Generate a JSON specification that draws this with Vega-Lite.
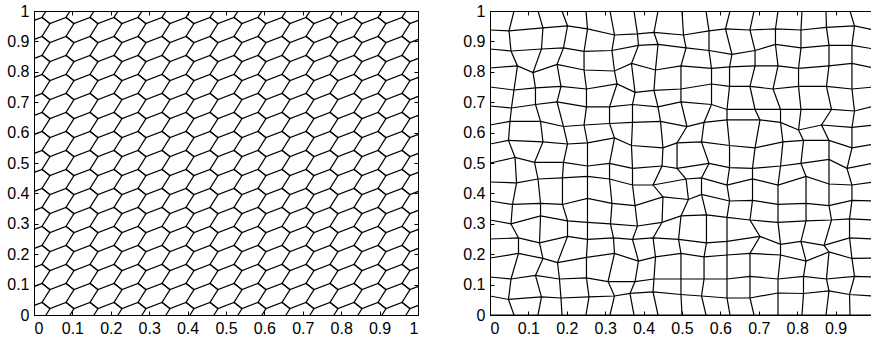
{
"$schema":"https://vega.github.io/schema/vega-lite/v6.json",
"padding":{"left":6,"top":2,"right":0,"bottom":2},
"background":"white",
"config":{"font":"Liberation Sans","axis":{"labelFont":"Liberation Sans","labelFontSize":16,"labelColor":"black","domainColor":"black","tickColor":"black","grid":false,"title":null,"tickSize":-4,"labelPadding":9,"domainWidth":1,"tickWidth":1},"view":{"stroke":"black","strokeWidth":1}},
"spacing":72,
"bounds":"flush",
"datasets":{
"hex":[
{"i":0,"j":-1,"x":0.0208,"y":-0.0208},{"i":1,"j":-1,"x":0.0833,"y":-0.0208},{"i":2,"j":-1,"x":0.1458,"y":-0.0208},{"i":3,"j":-1,"x":0.2083,"y":-0.0208},{"i":4,"j":-1,"x":0.2708,"y":-0.0208},{"i":5,"j":-1,"x":0.3333,"y":-0.0208},{"i":6,"j":-1,"x":0.3958,"y":-0.0208},{"i":7,"j":-1,"x":0.4583,"y":-0.0208},{"i":8,"j":-1,"x":0.5208,"y":-0.0208},{"i":9,"j":-1,"x":0.5833,"y":-0.0208},{"i":10,"j":-1,"x":0.6458,"y":-0.0208},{"i":11,"j":-1,"x":0.7083,"y":-0.0208},{"i":12,"j":-1,"x":0.7708,"y":-0.0208},{"i":13,"j":-1,"x":0.8333,"y":-0.0208},{"i":14,"j":-1,"x":0.8958,"y":-0.0208},{"i":15,"j":-1,"x":0.9583,"y":-0.0208},
{"i":-1,"j":0,"x":-0.0208,"y":0.0208},{"i":0,"j":0,"x":0.0208,"y":0.0417},{"i":0,"j":0,"x":0.0417,"y":0.0208},{"i":1,"j":0,"x":0.0833,"y":0.0417},{"i":1,"j":0,"x":0.1042,"y":0.0208},{"i":2,"j":0,"x":0.1458,"y":0.0417},{"i":2,"j":0,"x":0.1667,"y":0.0208},{"i":3,"j":0,"x":0.2083,"y":0.0417},{"i":3,"j":0,"x":0.2292,"y":0.0208},{"i":4,"j":0,"x":0.2708,"y":0.0417},{"i":4,"j":0,"x":0.2917,"y":0.0208},{"i":5,"j":0,"x":0.3333,"y":0.0417},{"i":5,"j":0,"x":0.3542,"y":0.0208},{"i":6,"j":0,"x":0.3958,"y":0.0417},{"i":6,"j":0,"x":0.4167,"y":0.0208},{"i":7,"j":0,"x":0.4583,"y":0.0417},{"i":7,"j":0,"x":0.4792,"y":0.0208},{"i":8,"j":0,"x":0.5208,"y":0.0417},{"i":8,"j":0,"x":0.5417,"y":0.0208},{"i":9,"j":0,"x":0.5833,"y":0.0417},{"i":9,"j":0,"x":0.6042,"y":0.0208},{"i":10,"j":0,"x":0.6458,"y":0.0417},{"i":10,"j":0,"x":0.6667,"y":0.0208},{"i":11,"j":0,"x":0.7083,"y":0.0417},{"i":11,"j":0,"x":0.7292,"y":0.0208},{"i":12,"j":0,"x":0.7708,"y":0.0417},{"i":12,"j":0,"x":0.7917,"y":0.0208},{"i":13,"j":0,"x":0.8333,"y":0.0417},{"i":13,"j":0,"x":0.8542,"y":0.0208},{"i":14,"j":0,"x":0.8958,"y":0.0417},{"i":14,"j":0,"x":0.9167,"y":0.0208},{"i":15,"j":0,"x":0.9583,"y":0.0417},{"i":15,"j":0,"x":0.9792,"y":0.0208},{"i":16,"j":0,"x":1.0208,"y":0.0417},
{"i":-1,"j":1,"x":-0.0208,"y":0.0833},{"i":0,"j":1,"x":0.0208,"y":0.1042},{"i":0,"j":1,"x":0.0417,"y":0.0833},{"i":1,"j":1,"x":0.0833,"y":0.1042},{"i":1,"j":1,"x":0.1042,"y":0.0833},{"i":2,"j":1,"x":0.1458,"y":0.1042},{"i":2,"j":1,"x":0.1667,"y":0.0833},{"i":3,"j":1,"x":0.2083,"y":0.1042},{"i":3,"j":1,"x":0.2292,"y":0.0833},{"i":4,"j":1,"x":0.2708,"y":0.1042},{"i":4,"j":1,"x":0.2917,"y":0.0833},{"i":5,"j":1,"x":0.3333,"y":0.1042},{"i":5,"j":1,"x":0.3542,"y":0.0833},{"i":6,"j":1,"x":0.3958,"y":0.1042},{"i":6,"j":1,"x":0.4167,"y":0.0833},{"i":7,"j":1,"x":0.4583,"y":0.1042},{"i":7,"j":1,"x":0.4792,"y":0.0833},{"i":8,"j":1,"x":0.5208,"y":0.1042},{"i":8,"j":1,"x":0.5417,"y":0.0833},{"i":9,"j":1,"x":0.5833,"y":0.1042},{"i":9,"j":1,"x":0.6042,"y":0.0833},{"i":10,"j":1,"x":0.6458,"y":0.1042},{"i":10,"j":1,"x":0.6667,"y":0.0833},{"i":11,"j":1,"x":0.7083,"y":0.1042},{"i":11,"j":1,"x":0.7292,"y":0.0833},{"i":12,"j":1,"x":0.7708,"y":0.1042},{"i":12,"j":1,"x":0.7917,"y":0.0833},{"i":13,"j":1,"x":0.8333,"y":0.1042},{"i":13,"j":1,"x":0.8542,"y":0.0833},{"i":14,"j":1,"x":0.8958,"y":0.1042},{"i":14,"j":1,"x":0.9167,"y":0.0833},{"i":15,"j":1,"x":0.9583,"y":0.1042},{"i":15,"j":1,"x":0.9792,"y":0.0833},{"i":16,"j":1,"x":1.0208,"y":0.1042},
{"i":-1,"j":2,"x":-0.0208,"y":0.1458},{"i":0,"j":2,"x":0.0208,"y":0.1667},{"i":0,"j":2,"x":0.0417,"y":0.1458},{"i":1,"j":2,"x":0.0833,"y":0.1667},{"i":1,"j":2,"x":0.1042,"y":0.1458},{"i":2,"j":2,"x":0.1458,"y":0.1667},{"i":2,"j":2,"x":0.1667,"y":0.1458},{"i":3,"j":2,"x":0.2083,"y":0.1667},{"i":3,"j":2,"x":0.2292,"y":0.1458},{"i":4,"j":2,"x":0.2708,"y":0.1667},{"i":4,"j":2,"x":0.2917,"y":0.1458},{"i":5,"j":2,"x":0.3333,"y":0.1667},{"i":5,"j":2,"x":0.3542,"y":0.1458},{"i":6,"j":2,"x":0.3958,"y":0.1667},{"i":6,"j":2,"x":0.4167,"y":0.1458},{"i":7,"j":2,"x":0.4583,"y":0.1667},{"i":7,"j":2,"x":0.4792,"y":0.1458},{"i":8,"j":2,"x":0.5208,"y":0.1667},{"i":8,"j":2,"x":0.5417,"y":0.1458},{"i":9,"j":2,"x":0.5833,"y":0.1667},{"i":9,"j":2,"x":0.6042,"y":0.1458},{"i":10,"j":2,"x":0.6458,"y":0.1667},{"i":10,"j":2,"x":0.6667,"y":0.1458},{"i":11,"j":2,"x":0.7083,"y":0.1667},{"i":11,"j":2,"x":0.7292,"y":0.1458},{"i":12,"j":2,"x":0.7708,"y":0.1667},{"i":12,"j":2,"x":0.7917,"y":0.1458},{"i":13,"j":2,"x":0.8333,"y":0.1667},{"i":13,"j":2,"x":0.8542,"y":0.1458},{"i":14,"j":2,"x":0.8958,"y":0.1667},{"i":14,"j":2,"x":0.9167,"y":0.1458},{"i":15,"j":2,"x":0.9583,"y":0.1667},{"i":15,"j":2,"x":0.9792,"y":0.1458},{"i":16,"j":2,"x":1.0208,"y":0.1667},
{"i":-1,"j":3,"x":-0.0208,"y":0.2083},{"i":0,"j":3,"x":0.0208,"y":0.2292},{"i":0,"j":3,"x":0.0417,"y":0.2083},{"i":1,"j":3,"x":0.0833,"y":0.2292},{"i":1,"j":3,"x":0.1042,"y":0.2083},{"i":2,"j":3,"x":0.1458,"y":0.2292},{"i":2,"j":3,"x":0.1667,"y":0.2083},{"i":3,"j":3,"x":0.2083,"y":0.2292},{"i":3,"j":3,"x":0.2292,"y":0.2083},{"i":4,"j":3,"x":0.2708,"y":0.2292},{"i":4,"j":3,"x":0.2917,"y":0.2083},{"i":5,"j":3,"x":0.3333,"y":0.2292},{"i":5,"j":3,"x":0.3542,"y":0.2083},{"i":6,"j":3,"x":0.3958,"y":0.2292},{"i":6,"j":3,"x":0.4167,"y":0.2083},{"i":7,"j":3,"x":0.4583,"y":0.2292},{"i":7,"j":3,"x":0.4792,"y":0.2083},{"i":8,"j":3,"x":0.5208,"y":0.2292},{"i":8,"j":3,"x":0.5417,"y":0.2083},{"i":9,"j":3,"x":0.5833,"y":0.2292},{"i":9,"j":3,"x":0.6042,"y":0.2083},{"i":10,"j":3,"x":0.6458,"y":0.2292},{"i":10,"j":3,"x":0.6667,"y":0.2083},{"i":11,"j":3,"x":0.7083,"y":0.2292},{"i":11,"j":3,"x":0.7292,"y":0.2083},{"i":12,"j":3,"x":0.7708,"y":0.2292},{"i":12,"j":3,"x":0.7917,"y":0.2083},{"i":13,"j":3,"x":0.8333,"y":0.2292},{"i":13,"j":3,"x":0.8542,"y":0.2083},{"i":14,"j":3,"x":0.8958,"y":0.2292},{"i":14,"j":3,"x":0.9167,"y":0.2083},{"i":15,"j":3,"x":0.9583,"y":0.2292},{"i":15,"j":3,"x":0.9792,"y":0.2083},{"i":16,"j":3,"x":1.0208,"y":0.2292},
{"i":-1,"j":4,"x":-0.0208,"y":0.2708},{"i":0,"j":4,"x":0.0208,"y":0.2917},{"i":0,"j":4,"x":0.0417,"y":0.2708},{"i":1,"j":4,"x":0.0833,"y":0.2917},{"i":1,"j":4,"x":0.1042,"y":0.2708},{"i":2,"j":4,"x":0.1458,"y":0.2917},{"i":2,"j":4,"x":0.1667,"y":0.2708},{"i":3,"j":4,"x":0.2083,"y":0.2917},{"i":3,"j":4,"x":0.2292,"y":0.2708},{"i":4,"j":4,"x":0.2708,"y":0.2917},{"i":4,"j":4,"x":0.2917,"y":0.2708},{"i":5,"j":4,"x":0.3333,"y":0.2917},{"i":5,"j":4,"x":0.3542,"y":0.2708},{"i":6,"j":4,"x":0.3958,"y":0.2917},{"i":6,"j":4,"x":0.4167,"y":0.2708},{"i":7,"j":4,"x":0.4583,"y":0.2917},{"i":7,"j":4,"x":0.4792,"y":0.2708},{"i":8,"j":4,"x":0.5208,"y":0.2917},{"i":8,"j":4,"x":0.5417,"y":0.2708},{"i":9,"j":4,"x":0.5833,"y":0.2917},{"i":9,"j":4,"x":0.6042,"y":0.2708},{"i":10,"j":4,"x":0.6458,"y":0.2917},{"i":10,"j":4,"x":0.6667,"y":0.2708},{"i":11,"j":4,"x":0.7083,"y":0.2917},{"i":11,"j":4,"x":0.7292,"y":0.2708},{"i":12,"j":4,"x":0.7708,"y":0.2917},{"i":12,"j":4,"x":0.7917,"y":0.2708},{"i":13,"j":4,"x":0.8333,"y":0.2917},{"i":13,"j":4,"x":0.8542,"y":0.2708},{"i":14,"j":4,"x":0.8958,"y":0.2917},{"i":14,"j":4,"x":0.9167,"y":0.2708},{"i":15,"j":4,"x":0.9583,"y":0.2917},{"i":15,"j":4,"x":0.9792,"y":0.2708},{"i":16,"j":4,"x":1.0208,"y":0.2917},
{"i":-1,"j":5,"x":-0.0208,"y":0.3333},{"i":0,"j":5,"x":0.0208,"y":0.3542},{"i":0,"j":5,"x":0.0417,"y":0.3333},{"i":1,"j":5,"x":0.0833,"y":0.3542},{"i":1,"j":5,"x":0.1042,"y":0.3333},{"i":2,"j":5,"x":0.1458,"y":0.3542},{"i":2,"j":5,"x":0.1667,"y":0.3333},{"i":3,"j":5,"x":0.2083,"y":0.3542},{"i":3,"j":5,"x":0.2292,"y":0.3333},{"i":4,"j":5,"x":0.2708,"y":0.3542},{"i":4,"j":5,"x":0.2917,"y":0.3333},{"i":5,"j":5,"x":0.3333,"y":0.3542},{"i":5,"j":5,"x":0.3542,"y":0.3333},{"i":6,"j":5,"x":0.3958,"y":0.3542},{"i":6,"j":5,"x":0.4167,"y":0.3333},{"i":7,"j":5,"x":0.4583,"y":0.3542},{"i":7,"j":5,"x":0.4792,"y":0.3333},{"i":8,"j":5,"x":0.5208,"y":0.3542},{"i":8,"j":5,"x":0.5417,"y":0.3333},{"i":9,"j":5,"x":0.5833,"y":0.3542},{"i":9,"j":5,"x":0.6042,"y":0.3333},{"i":10,"j":5,"x":0.6458,"y":0.3542},{"i":10,"j":5,"x":0.6667,"y":0.3333},{"i":11,"j":5,"x":0.7083,"y":0.3542},{"i":11,"j":5,"x":0.7292,"y":0.3333},{"i":12,"j":5,"x":0.7708,"y":0.3542},{"i":12,"j":5,"x":0.7917,"y":0.3333},{"i":13,"j":5,"x":0.8333,"y":0.3542},{"i":13,"j":5,"x":0.8542,"y":0.3333},{"i":14,"j":5,"x":0.8958,"y":0.3542},{"i":14,"j":5,"x":0.9167,"y":0.3333},{"i":15,"j":5,"x":0.9583,"y":0.3542},{"i":15,"j":5,"x":0.9792,"y":0.3333},{"i":16,"j":5,"x":1.0208,"y":0.3542},
{"i":-1,"j":6,"x":-0.0208,"y":0.3958},{"i":0,"j":6,"x":0.0208,"y":0.4167},{"i":0,"j":6,"x":0.0417,"y":0.3958},{"i":1,"j":6,"x":0.0833,"y":0.4167},{"i":1,"j":6,"x":0.1042,"y":0.3958},{"i":2,"j":6,"x":0.1458,"y":0.4167},{"i":2,"j":6,"x":0.1667,"y":0.3958},{"i":3,"j":6,"x":0.2083,"y":0.4167},{"i":3,"j":6,"x":0.2292,"y":0.3958},{"i":4,"j":6,"x":0.2708,"y":0.4167},{"i":4,"j":6,"x":0.2917,"y":0.3958},{"i":5,"j":6,"x":0.3333,"y":0.4167},{"i":5,"j":6,"x":0.3542,"y":0.3958},{"i":6,"j":6,"x":0.3958,"y":0.4167},{"i":6,"j":6,"x":0.4167,"y":0.3958},{"i":7,"j":6,"x":0.4583,"y":0.4167},{"i":7,"j":6,"x":0.4792,"y":0.3958},{"i":8,"j":6,"x":0.5208,"y":0.4167},{"i":8,"j":6,"x":0.5417,"y":0.3958},{"i":9,"j":6,"x":0.5833,"y":0.4167},{"i":9,"j":6,"x":0.6042,"y":0.3958},{"i":10,"j":6,"x":0.6458,"y":0.4167},{"i":10,"j":6,"x":0.6667,"y":0.3958},{"i":11,"j":6,"x":0.7083,"y":0.4167},{"i":11,"j":6,"x":0.7292,"y":0.3958},{"i":12,"j":6,"x":0.7708,"y":0.4167},{"i":12,"j":6,"x":0.7917,"y":0.3958},{"i":13,"j":6,"x":0.8333,"y":0.4167},{"i":13,"j":6,"x":0.8542,"y":0.3958},{"i":14,"j":6,"x":0.8958,"y":0.4167},{"i":14,"j":6,"x":0.9167,"y":0.3958},{"i":15,"j":6,"x":0.9583,"y":0.4167},{"i":15,"j":6,"x":0.9792,"y":0.3958},{"i":16,"j":6,"x":1.0208,"y":0.4167},
{"i":-1,"j":7,"x":-0.0208,"y":0.4583},{"i":0,"j":7,"x":0.0208,"y":0.4792},{"i":0,"j":7,"x":0.0417,"y":0.4583},{"i":1,"j":7,"x":0.0833,"y":0.4792},{"i":1,"j":7,"x":0.1042,"y":0.4583},{"i":2,"j":7,"x":0.1458,"y":0.4792},{"i":2,"j":7,"x":0.1667,"y":0.4583},{"i":3,"j":7,"x":0.2083,"y":0.4792},{"i":3,"j":7,"x":0.2292,"y":0.4583},{"i":4,"j":7,"x":0.2708,"y":0.4792},{"i":4,"j":7,"x":0.2917,"y":0.4583},{"i":5,"j":7,"x":0.3333,"y":0.4792},{"i":5,"j":7,"x":0.3542,"y":0.4583},{"i":6,"j":7,"x":0.3958,"y":0.4792},{"i":6,"j":7,"x":0.4167,"y":0.4583},{"i":7,"j":7,"x":0.4583,"y":0.4792},{"i":7,"j":7,"x":0.4792,"y":0.4583},{"i":8,"j":7,"x":0.5208,"y":0.4792},{"i":8,"j":7,"x":0.5417,"y":0.4583},{"i":9,"j":7,"x":0.5833,"y":0.4792},{"i":9,"j":7,"x":0.6042,"y":0.4583},{"i":10,"j":7,"x":0.6458,"y":0.4792},{"i":10,"j":7,"x":0.6667,"y":0.4583},{"i":11,"j":7,"x":0.7083,"y":0.4792},{"i":11,"j":7,"x":0.7292,"y":0.4583},{"i":12,"j":7,"x":0.7708,"y":0.4792},{"i":12,"j":7,"x":0.7917,"y":0.4583},{"i":13,"j":7,"x":0.8333,"y":0.4792},{"i":13,"j":7,"x":0.8542,"y":0.4583},{"i":14,"j":7,"x":0.8958,"y":0.4792},{"i":14,"j":7,"x":0.9167,"y":0.4583},{"i":15,"j":7,"x":0.9583,"y":0.4792},{"i":15,"j":7,"x":0.9792,"y":0.4583},{"i":16,"j":7,"x":1.0208,"y":0.4792},
{"i":-1,"j":8,"x":-0.0208,"y":0.5208},{"i":0,"j":8,"x":0.0208,"y":0.5417},{"i":0,"j":8,"x":0.0417,"y":0.5208},{"i":1,"j":8,"x":0.0833,"y":0.5417},{"i":1,"j":8,"x":0.1042,"y":0.5208},{"i":2,"j":8,"x":0.1458,"y":0.5417},{"i":2,"j":8,"x":0.1667,"y":0.5208},{"i":3,"j":8,"x":0.2083,"y":0.5417},{"i":3,"j":8,"x":0.2292,"y":0.5208},{"i":4,"j":8,"x":0.2708,"y":0.5417},{"i":4,"j":8,"x":0.2917,"y":0.5208},{"i":5,"j":8,"x":0.3333,"y":0.5417},{"i":5,"j":8,"x":0.3542,"y":0.5208},{"i":6,"j":8,"x":0.3958,"y":0.5417},{"i":6,"j":8,"x":0.4167,"y":0.5208},{"i":7,"j":8,"x":0.4583,"y":0.5417},{"i":7,"j":8,"x":0.4792,"y":0.5208},{"i":8,"j":8,"x":0.5208,"y":0.5417},{"i":8,"j":8,"x":0.5417,"y":0.5208},{"i":9,"j":8,"x":0.5833,"y":0.5417},{"i":9,"j":8,"x":0.6042,"y":0.5208},{"i":10,"j":8,"x":0.6458,"y":0.5417},{"i":10,"j":8,"x":0.6667,"y":0.5208},{"i":11,"j":8,"x":0.7083,"y":0.5417},{"i":11,"j":8,"x":0.7292,"y":0.5208},{"i":12,"j":8,"x":0.7708,"y":0.5417},{"i":12,"j":8,"x":0.7917,"y":0.5208},{"i":13,"j":8,"x":0.8333,"y":0.5417},{"i":13,"j":8,"x":0.8542,"y":0.5208},{"i":14,"j":8,"x":0.8958,"y":0.5417},{"i":14,"j":8,"x":0.9167,"y":0.5208},{"i":15,"j":8,"x":0.9583,"y":0.5417},{"i":15,"j":8,"x":0.9792,"y":0.5208},{"i":16,"j":8,"x":1.0208,"y":0.5417},
{"i":-1,"j":9,"x":-0.0208,"y":0.5833},{"i":0,"j":9,"x":0.0208,"y":0.6042},{"i":0,"j":9,"x":0.0417,"y":0.5833},{"i":1,"j":9,"x":0.0833,"y":0.6042},{"i":1,"j":9,"x":0.1042,"y":0.5833},{"i":2,"j":9,"x":0.1458,"y":0.6042},{"i":2,"j":9,"x":0.1667,"y":0.5833},{"i":3,"j":9,"x":0.2083,"y":0.6042},{"i":3,"j":9,"x":0.2292,"y":0.5833},{"i":4,"j":9,"x":0.2708,"y":0.6042},{"i":4,"j":9,"x":0.2917,"y":0.5833},{"i":5,"j":9,"x":0.3333,"y":0.6042},{"i":5,"j":9,"x":0.3542,"y":0.5833},{"i":6,"j":9,"x":0.3958,"y":0.6042},{"i":6,"j":9,"x":0.4167,"y":0.5833},{"i":7,"j":9,"x":0.4583,"y":0.6042},{"i":7,"j":9,"x":0.4792,"y":0.5833},{"i":8,"j":9,"x":0.5208,"y":0.6042},{"i":8,"j":9,"x":0.5417,"y":0.5833},{"i":9,"j":9,"x":0.5833,"y":0.6042},{"i":9,"j":9,"x":0.6042,"y":0.5833},{"i":10,"j":9,"x":0.6458,"y":0.6042},{"i":10,"j":9,"x":0.6667,"y":0.5833},{"i":11,"j":9,"x":0.7083,"y":0.6042},{"i":11,"j":9,"x":0.7292,"y":0.5833},{"i":12,"j":9,"x":0.7708,"y":0.6042},{"i":12,"j":9,"x":0.7917,"y":0.5833},{"i":13,"j":9,"x":0.8333,"y":0.6042},{"i":13,"j":9,"x":0.8542,"y":0.5833},{"i":14,"j":9,"x":0.8958,"y":0.6042},{"i":14,"j":9,"x":0.9167,"y":0.5833},{"i":15,"j":9,"x":0.9583,"y":0.6042},{"i":15,"j":9,"x":0.9792,"y":0.5833},{"i":16,"j":9,"x":1.0208,"y":0.6042},
{"i":-1,"j":10,"x":-0.0208,"y":0.6458},{"i":0,"j":10,"x":0.0208,"y":0.6667},{"i":0,"j":10,"x":0.0417,"y":0.6458},{"i":1,"j":10,"x":0.0833,"y":0.6667},{"i":1,"j":10,"x":0.1042,"y":0.6458},{"i":2,"j":10,"x":0.1458,"y":0.6667},{"i":2,"j":10,"x":0.1667,"y":0.6458},{"i":3,"j":10,"x":0.2083,"y":0.6667},{"i":3,"j":10,"x":0.2292,"y":0.6458},{"i":4,"j":10,"x":0.2708,"y":0.6667},{"i":4,"j":10,"x":0.2917,"y":0.6458},{"i":5,"j":10,"x":0.3333,"y":0.6667},{"i":5,"j":10,"x":0.3542,"y":0.6458},{"i":6,"j":10,"x":0.3958,"y":0.6667},{"i":6,"j":10,"x":0.4167,"y":0.6458},{"i":7,"j":10,"x":0.4583,"y":0.6667},{"i":7,"j":10,"x":0.4792,"y":0.6458},{"i":8,"j":10,"x":0.5208,"y":0.6667},{"i":8,"j":10,"x":0.5417,"y":0.6458},{"i":9,"j":10,"x":0.5833,"y":0.6667},{"i":9,"j":10,"x":0.6042,"y":0.6458},{"i":10,"j":10,"x":0.6458,"y":0.6667},{"i":10,"j":10,"x":0.6667,"y":0.6458},{"i":11,"j":10,"x":0.7083,"y":0.6667},{"i":11,"j":10,"x":0.7292,"y":0.6458},{"i":12,"j":10,"x":0.7708,"y":0.6667},{"i":12,"j":10,"x":0.7917,"y":0.6458},{"i":13,"j":10,"x":0.8333,"y":0.6667},{"i":13,"j":10,"x":0.8542,"y":0.6458},{"i":14,"j":10,"x":0.8958,"y":0.6667},{"i":14,"j":10,"x":0.9167,"y":0.6458},{"i":15,"j":10,"x":0.9583,"y":0.6667},{"i":15,"j":10,"x":0.9792,"y":0.6458},{"i":16,"j":10,"x":1.0208,"y":0.6667},
{"i":-1,"j":11,"x":-0.0208,"y":0.7083},{"i":0,"j":11,"x":0.0208,"y":0.7292},{"i":0,"j":11,"x":0.0417,"y":0.7083},{"i":1,"j":11,"x":0.0833,"y":0.7292},{"i":1,"j":11,"x":0.1042,"y":0.7083},{"i":2,"j":11,"x":0.1458,"y":0.7292},{"i":2,"j":11,"x":0.1667,"y":0.7083},{"i":3,"j":11,"x":0.2083,"y":0.7292},{"i":3,"j":11,"x":0.2292,"y":0.7083},{"i":4,"j":11,"x":0.2708,"y":0.7292},{"i":4,"j":11,"x":0.2917,"y":0.7083},{"i":5,"j":11,"x":0.3333,"y":0.7292},{"i":5,"j":11,"x":0.3542,"y":0.7083},{"i":6,"j":11,"x":0.3958,"y":0.7292},{"i":6,"j":11,"x":0.4167,"y":0.7083},{"i":7,"j":11,"x":0.4583,"y":0.7292},{"i":7,"j":11,"x":0.4792,"y":0.7083},{"i":8,"j":11,"x":0.5208,"y":0.7292},{"i":8,"j":11,"x":0.5417,"y":0.7083},{"i":9,"j":11,"x":0.5833,"y":0.7292},{"i":9,"j":11,"x":0.6042,"y":0.7083},{"i":10,"j":11,"x":0.6458,"y":0.7292},{"i":10,"j":11,"x":0.6667,"y":0.7083},{"i":11,"j":11,"x":0.7083,"y":0.7292},{"i":11,"j":11,"x":0.7292,"y":0.7083},{"i":12,"j":11,"x":0.7708,"y":0.7292},{"i":12,"j":11,"x":0.7917,"y":0.7083},{"i":13,"j":11,"x":0.8333,"y":0.7292},{"i":13,"j":11,"x":0.8542,"y":0.7083},{"i":14,"j":11,"x":0.8958,"y":0.7292},{"i":14,"j":11,"x":0.9167,"y":0.7083},{"i":15,"j":11,"x":0.9583,"y":0.7292},{"i":15,"j":11,"x":0.9792,"y":0.7083},{"i":16,"j":11,"x":1.0208,"y":0.7292},
{"i":-1,"j":12,"x":-0.0208,"y":0.7708},{"i":0,"j":12,"x":0.0208,"y":0.7917},{"i":0,"j":12,"x":0.0417,"y":0.7708},{"i":1,"j":12,"x":0.0833,"y":0.7917},{"i":1,"j":12,"x":0.1042,"y":0.7708},{"i":2,"j":12,"x":0.1458,"y":0.7917},{"i":2,"j":12,"x":0.1667,"y":0.7708},{"i":3,"j":12,"x":0.2083,"y":0.7917},{"i":3,"j":12,"x":0.2292,"y":0.7708},{"i":4,"j":12,"x":0.2708,"y":0.7917},{"i":4,"j":12,"x":0.2917,"y":0.7708},{"i":5,"j":12,"x":0.3333,"y":0.7917},{"i":5,"j":12,"x":0.3542,"y":0.7708},{"i":6,"j":12,"x":0.3958,"y":0.7917},{"i":6,"j":12,"x":0.4167,"y":0.7708},{"i":7,"j":12,"x":0.4583,"y":0.7917},{"i":7,"j":12,"x":0.4792,"y":0.7708},{"i":8,"j":12,"x":0.5208,"y":0.7917},{"i":8,"j":12,"x":0.5417,"y":0.7708},{"i":9,"j":12,"x":0.5833,"y":0.7917},{"i":9,"j":12,"x":0.6042,"y":0.7708},{"i":10,"j":12,"x":0.6458,"y":0.7917},{"i":10,"j":12,"x":0.6667,"y":0.7708},{"i":11,"j":12,"x":0.7083,"y":0.7917},{"i":11,"j":12,"x":0.7292,"y":0.7708},{"i":12,"j":12,"x":0.7708,"y":0.7917},{"i":12,"j":12,"x":0.7917,"y":0.7708},{"i":13,"j":12,"x":0.8333,"y":0.7917},{"i":13,"j":12,"x":0.8542,"y":0.7708},{"i":14,"j":12,"x":0.8958,"y":0.7917},{"i":14,"j":12,"x":0.9167,"y":0.7708},{"i":15,"j":12,"x":0.9583,"y":0.7917},{"i":15,"j":12,"x":0.9792,"y":0.7708},{"i":16,"j":12,"x":1.0208,"y":0.7917},
{"i":-1,"j":13,"x":-0.0208,"y":0.8333},{"i":0,"j":13,"x":0.0208,"y":0.8542},{"i":0,"j":13,"x":0.0417,"y":0.8333},{"i":1,"j":13,"x":0.0833,"y":0.8542},{"i":1,"j":13,"x":0.1042,"y":0.8333},{"i":2,"j":13,"x":0.1458,"y":0.8542},{"i":2,"j":13,"x":0.1667,"y":0.8333},{"i":3,"j":13,"x":0.2083,"y":0.8542},{"i":3,"j":13,"x":0.2292,"y":0.8333},{"i":4,"j":13,"x":0.2708,"y":0.8542},{"i":4,"j":13,"x":0.2917,"y":0.8333},{"i":5,"j":13,"x":0.3333,"y":0.8542},{"i":5,"j":13,"x":0.3542,"y":0.8333},{"i":6,"j":13,"x":0.3958,"y":0.8542},{"i":6,"j":13,"x":0.4167,"y":0.8333},{"i":7,"j":13,"x":0.4583,"y":0.8542},{"i":7,"j":13,"x":0.4792,"y":0.8333},{"i":8,"j":13,"x":0.5208,"y":0.8542},{"i":8,"j":13,"x":0.5417,"y":0.8333},{"i":9,"j":13,"x":0.5833,"y":0.8542},{"i":9,"j":13,"x":0.6042,"y":0.8333},{"i":10,"j":13,"x":0.6458,"y":0.8542},{"i":10,"j":13,"x":0.6667,"y":0.8333},{"i":11,"j":13,"x":0.7083,"y":0.8542},{"i":11,"j":13,"x":0.7292,"y":0.8333},{"i":12,"j":13,"x":0.7708,"y":0.8542},{"i":12,"j":13,"x":0.7917,"y":0.8333},{"i":13,"j":13,"x":0.8333,"y":0.8542},{"i":13,"j":13,"x":0.8542,"y":0.8333},{"i":14,"j":13,"x":0.8958,"y":0.8542},{"i":14,"j":13,"x":0.9167,"y":0.8333},{"i":15,"j":13,"x":0.9583,"y":0.8542},{"i":15,"j":13,"x":0.9792,"y":0.8333},{"i":16,"j":13,"x":1.0208,"y":0.8542},
{"i":-1,"j":14,"x":-0.0208,"y":0.8958},{"i":0,"j":14,"x":0.0208,"y":0.9167},{"i":0,"j":14,"x":0.0417,"y":0.8958},{"i":1,"j":14,"x":0.0833,"y":0.9167},{"i":1,"j":14,"x":0.1042,"y":0.8958},{"i":2,"j":14,"x":0.1458,"y":0.9167},{"i":2,"j":14,"x":0.1667,"y":0.8958},{"i":3,"j":14,"x":0.2083,"y":0.9167},{"i":3,"j":14,"x":0.2292,"y":0.8958},{"i":4,"j":14,"x":0.2708,"y":0.9167},{"i":4,"j":14,"x":0.2917,"y":0.8958},{"i":5,"j":14,"x":0.3333,"y":0.9167},{"i":5,"j":14,"x":0.3542,"y":0.8958},{"i":6,"j":14,"x":0.3958,"y":0.9167},{"i":6,"j":14,"x":0.4167,"y":0.8958},{"i":7,"j":14,"x":0.4583,"y":0.9167},{"i":7,"j":14,"x":0.4792,"y":0.8958},{"i":8,"j":14,"x":0.5208,"y":0.9167},{"i":8,"j":14,"x":0.5417,"y":0.8958},{"i":9,"j":14,"x":0.5833,"y":0.9167},{"i":9,"j":14,"x":0.6042,"y":0.8958},{"i":10,"j":14,"x":0.6458,"y":0.9167},{"i":10,"j":14,"x":0.6667,"y":0.8958},{"i":11,"j":14,"x":0.7083,"y":0.9167},{"i":11,"j":14,"x":0.7292,"y":0.8958},{"i":12,"j":14,"x":0.7708,"y":0.9167},{"i":12,"j":14,"x":0.7917,"y":0.8958},{"i":13,"j":14,"x":0.8333,"y":0.9167},{"i":13,"j":14,"x":0.8542,"y":0.8958},{"i":14,"j":14,"x":0.8958,"y":0.9167},{"i":14,"j":14,"x":0.9167,"y":0.8958},{"i":15,"j":14,"x":0.9583,"y":0.9167},{"i":15,"j":14,"x":0.9792,"y":0.8958},{"i":16,"j":14,"x":1.0208,"y":0.9167},
{"i":-1,"j":15,"x":-0.0208,"y":0.9583},{"i":0,"j":15,"x":0.0208,"y":0.9792},{"i":0,"j":15,"x":0.0417,"y":0.9583},{"i":1,"j":15,"x":0.0833,"y":0.9792},{"i":1,"j":15,"x":0.1042,"y":0.9583},{"i":2,"j":15,"x":0.1458,"y":0.9792},{"i":2,"j":15,"x":0.1667,"y":0.9583},{"i":3,"j":15,"x":0.2083,"y":0.9792},{"i":3,"j":15,"x":0.2292,"y":0.9583},{"i":4,"j":15,"x":0.2708,"y":0.9792},{"i":4,"j":15,"x":0.2917,"y":0.9583},{"i":5,"j":15,"x":0.3333,"y":0.9792},{"i":5,"j":15,"x":0.3542,"y":0.9583},{"i":6,"j":15,"x":0.3958,"y":0.9792},{"i":6,"j":15,"x":0.4167,"y":0.9583},{"i":7,"j":15,"x":0.4583,"y":0.9792},{"i":7,"j":15,"x":0.4792,"y":0.9583},{"i":8,"j":15,"x":0.5208,"y":0.9792},{"i":8,"j":15,"x":0.5417,"y":0.9583},{"i":9,"j":15,"x":0.5833,"y":0.9792},{"i":9,"j":15,"x":0.6042,"y":0.9583},{"i":10,"j":15,"x":0.6458,"y":0.9792},{"i":10,"j":15,"x":0.6667,"y":0.9583},{"i":11,"j":15,"x":0.7083,"y":0.9792},{"i":11,"j":15,"x":0.7292,"y":0.9583},{"i":12,"j":15,"x":0.7708,"y":0.9792},{"i":12,"j":15,"x":0.7917,"y":0.9583},{"i":13,"j":15,"x":0.8333,"y":0.9792},{"i":13,"j":15,"x":0.8542,"y":0.9583},{"i":14,"j":15,"x":0.8958,"y":0.9792},{"i":14,"j":15,"x":0.9167,"y":0.9583},{"i":15,"j":15,"x":0.9583,"y":0.9792},{"i":15,"j":15,"x":0.9792,"y":0.9583},{"i":16,"j":15,"x":1.0208,"y":0.9792},
{"i":0,"j":16,"x":0.0417,"y":1.0208},{"i":1,"j":16,"x":0.1042,"y":1.0208},{"i":2,"j":16,"x":0.1667,"y":1.0208},{"i":3,"j":16,"x":0.2292,"y":1.0208},{"i":4,"j":16,"x":0.2917,"y":1.0208},{"i":5,"j":16,"x":0.3542,"y":1.0208},{"i":6,"j":16,"x":0.4167,"y":1.0208},{"i":7,"j":16,"x":0.4792,"y":1.0208},{"i":8,"j":16,"x":0.5417,"y":1.0208},{"i":9,"j":16,"x":0.6042,"y":1.0208},{"i":10,"j":16,"x":0.6667,"y":1.0208},{"i":11,"j":16,"x":0.7292,"y":1.0208},{"i":12,"j":16,"x":0.7917,"y":1.0208},{"i":13,"j":16,"x":0.8542,"y":1.0208},{"i":14,"j":16,"x":0.9167,"y":1.0208},{"i":15,"j":16,"x":0.9792,"y":1.0208}
],
"quad":[
{"i":0,"j":0,"x":0,"y":0},{"i":1,"j":0,"x":0.0625,"y":0},{"i":2,"j":0,"x":0.125,"y":0},{"i":3,"j":0,"x":0.1875,"y":0},{"i":4,"j":0,"x":0.25,"y":0},{"i":5,"j":0,"x":0.3125,"y":0},{"i":6,"j":0,"x":0.375,"y":0},{"i":7,"j":0,"x":0.4375,"y":0},{"i":8,"j":0,"x":0.5,"y":0},{"i":9,"j":0,"x":0.5625,"y":0},{"i":10,"j":0,"x":0.625,"y":0},{"i":11,"j":0,"x":0.6875,"y":0},{"i":12,"j":0,"x":0.75,"y":0},{"i":13,"j":0,"x":0.8125,"y":0},{"i":14,"j":0,"x":0.875,"y":0},{"i":15,"j":0,"x":0.9375,"y":0},{"i":16,"j":0,"x":1,"y":0},
{"i":0,"j":1,"x":0,"y":0.0625},{"i":1,"j":1,"x":0.0481,"y":0.0511},{"i":2,"j":1,"x":0.134,"y":0.0595},{"i":3,"j":1,"x":0.1848,"y":0.056},{"i":4,"j":1,"x":0.2578,"y":0.0595},{"i":5,"j":1,"x":0.3242,"y":0.0625},{"i":6,"j":1,"x":0.3645,"y":0.0709},{"i":7,"j":1,"x":0.4246,"y":0.0759},{"i":8,"j":1,"x":0.4973,"y":0.0675},{"i":9,"j":1,"x":0.5508,"y":0.0625},{"i":10,"j":1,"x":0.6172,"y":0.056},{"i":11,"j":1,"x":0.677,"y":0.056},{"i":12,"j":1,"x":0.75,"y":0.0724},{"i":13,"j":1,"x":0.8164,"y":0.0708},{"i":14,"j":1,"x":0.8828,"y":0.0793},{"i":15,"j":1,"x":0.9363,"y":0.0675},{"i":16,"j":1,"x":1,"y":0.0625},
{"i":0,"j":2,"x":0,"y":0.125},{"i":1,"j":2,"x":0.0547,"y":0.1185},{"i":2,"j":2,"x":0.1184,"y":0.13},{"i":3,"j":2,"x":0.1809,"y":0.1185},{"i":4,"j":2,"x":0.2512,"y":0.122},{"i":5,"j":2,"x":0.3074,"y":0.1101},{"i":6,"j":2,"x":0.3777,"y":0.1101},{"i":7,"j":2,"x":0.427,"y":0.1185},{"i":8,"j":2,"x":0.4973,"y":0.1185},{"i":9,"j":2,"x":0.5574,"y":0.1185},{"i":10,"j":2,"x":0.6172,"y":0.1185},{"i":11,"j":2,"x":0.677,"y":0.127},{"i":12,"j":2,"x":0.75,"y":0.1185},{"i":13,"j":2,"x":0.8164,"y":0.127},{"i":14,"j":2,"x":0.8762,"y":0.1185},{"i":15,"j":2,"x":0.9492,"y":0.127},{"i":16,"j":2,"x":1,"y":0.125},
{"i":0,"j":3,"x":0,"y":0.1875},{"i":1,"j":3,"x":0.0742,"y":0.2024},{"i":2,"j":3,"x":0.1379,"y":0.186},{"i":3,"j":3,"x":0.1758,"y":0.1726},{"i":4,"j":3,"x":0.2512,"y":0.1895},{"i":5,"j":3,"x":0.3242,"y":0.2024},{"i":6,"j":3,"x":0.3867,"y":0.1776},{"i":7,"j":3,"x":0.4309,"y":0.191},{"i":8,"j":3,"x":0.4973,"y":0.2024},{"i":9,"j":3,"x":0.5574,"y":0.191},{"i":10,"j":3,"x":0.6172,"y":0.1974},{"i":11,"j":3,"x":0.677,"y":0.2024},{"i":12,"j":3,"x":0.7566,"y":0.1974},{"i":13,"j":3,"x":0.823,"y":0.1776},{"i":14,"j":3,"x":0.8828,"y":0.2073},{"i":15,"j":3,"x":0.9426,"y":0.186},{"i":16,"j":3,"x":1,"y":0.1875},
{"i":0,"j":4,"x":0,"y":0.25},{"i":1,"j":4,"x":0.0742,"y":0.2535},{"i":2,"j":4,"x":0.1289,"y":0.2371},{"i":3,"j":4,"x":0.2019,"y":0.2584},{"i":4,"j":4,"x":0.2539,"y":0.2485},{"i":5,"j":4,"x":0.3215,"y":0.2535},{"i":6,"j":4,"x":0.3711,"y":0.2485},{"i":7,"j":4,"x":0.4246,"y":0.2535},{"i":8,"j":4,"x":0.491,"y":0.2485},{"i":9,"j":4,"x":0.5637,"y":0.2371},{"i":10,"j":4,"x":0.6172,"y":0.242},{"i":11,"j":4,"x":0.7031,"y":0.2584},{"i":12,"j":4,"x":0.7566,"y":0.2323},{"i":13,"j":4,"x":0.8098,"y":0.242},{"i":14,"j":4,"x":0.8699,"y":0.2288},{"i":15,"j":4,"x":0.9363,"y":0.2535},{"i":16,"j":4,"x":1,"y":0.25},
{"i":0,"j":5,"x":0,"y":0.3125},{"i":1,"j":5,"x":0.0547,"y":0.2996},{"i":2,"j":5,"x":0.1316,"y":0.3259},{"i":3,"j":5,"x":0.2019,"y":0.3095},{"i":4,"j":5,"x":0.2539,"y":0.3045},{"i":5,"j":5,"x":0.3137,"y":0.2996},{"i":6,"j":5,"x":0.384,"y":0.2927},{"i":7,"j":5,"x":0.448,"y":0.3045},{"i":8,"j":5,"x":0.4973,"y":0.3259},{"i":9,"j":5,"x":0.5637,"y":0.3293},{"i":10,"j":5,"x":0.6172,"y":0.3209},{"i":11,"j":5,"x":0.677,"y":0.3125},{"i":12,"j":5,"x":0.75,"y":0.3045},{"i":13,"j":5,"x":0.823,"y":0.3095},{"i":14,"j":5,"x":0.8894,"y":0.3125},{"i":15,"j":5,"x":0.9363,"y":0.316},{"i":16,"j":5,"x":1,"y":0.3125},
{"i":0,"j":6,"x":0,"y":0.375},{"i":1,"j":6,"x":0.0586,"y":0.3636},{"i":2,"j":6,"x":0.1316,"y":0.367},{"i":3,"j":6,"x":0.1887,"y":0.3636},{"i":4,"j":6,"x":0.2539,"y":0.3834},{"i":5,"j":6,"x":0.3176,"y":0.367},{"i":6,"j":6,"x":0.3777,"y":0.3601},{"i":7,"j":6,"x":0.4504,"y":0.3884},{"i":8,"j":6,"x":0.5168,"y":0.38},{"i":9,"j":6,"x":0.5508,"y":0.3968},{"i":10,"j":6,"x":0.6238,"y":0.375},{"i":11,"j":6,"x":0.6836,"y":0.377},{"i":12,"j":6,"x":0.75,"y":0.3636},{"i":13,"j":6,"x":0.823,"y":0.367},{"i":14,"j":6,"x":0.8828,"y":0.3601},{"i":15,"j":6,"x":0.9426,"y":0.377},{"i":16,"j":6,"x":1,"y":0.375},
{"i":0,"j":7,"x":0,"y":0.4375},{"i":1,"j":7,"x":0.0691,"y":0.4345},{"i":2,"j":7,"x":0.125,"y":0.4474},{"i":3,"j":7,"x":0.1887,"y":0.4509},{"i":4,"j":7,"x":0.2539,"y":0.4558},{"i":5,"j":7,"x":0.3113,"y":0.4474},{"i":6,"j":7,"x":0.3711,"y":0.4276},{"i":7,"j":7,"x":0.4246,"y":0.4276},{"i":8,"j":7,"x":0.5105,"y":0.4474},{"i":9,"j":7,"x":0.5508,"y":0.4509},{"i":10,"j":7,"x":0.6172,"y":0.4276},{"i":11,"j":7,"x":0.6836,"y":0.4474},{"i":12,"j":7,"x":0.75,"y":0.4276},{"i":13,"j":7,"x":0.823,"y":0.4558},{"i":14,"j":7,"x":0.8828,"y":0.431},{"i":15,"j":7,"x":0.9426,"y":0.4276},{"i":16,"j":7,"x":1,"y":0.4375},
{"i":0,"j":8,"x":0,"y":0.5},{"i":1,"j":8,"x":0.0652,"y":0.5183},{"i":2,"j":8,"x":0.116,"y":0.502},{"i":3,"j":8,"x":0.1914,"y":0.502},{"i":4,"j":8,"x":0.2539,"y":0.4901},{"i":5,"j":8,"x":0.3113,"y":0.4985},{"i":6,"j":8,"x":0.3711,"y":0.4823},{"i":7,"j":8,"x":0.448,"y":0.4901},{"i":8,"j":8,"x":0.4871,"y":0.4823},{"i":9,"j":8,"x":0.5703,"y":0.4985},{"i":10,"j":8,"x":0.6238,"y":0.4851},{"i":11,"j":8,"x":0.6836,"y":0.4823},{"i":12,"j":8,"x":0.7566,"y":0.4901},{"i":13,"j":8,"x":0.8098,"y":0.4985},{"i":14,"j":8,"x":0.8828,"y":0.5119},{"i":15,"j":8,"x":0.9297,"y":0.4823},{"i":16,"j":8,"x":1,"y":0.5},
{"i":0,"j":9,"x":0,"y":0.5625},{"i":1,"j":9,"x":0.0481,"y":0.5744},{"i":2,"j":9,"x":0.1379,"y":0.5694},{"i":3,"j":9,"x":0.2019,"y":0.5625},{"i":4,"j":9,"x":0.2539,"y":0.566},{"i":5,"j":9,"x":0.3242,"y":0.5823},{"i":6,"j":9,"x":0.3684,"y":0.5575},{"i":7,"j":9,"x":0.4504,"y":0.5496},{"i":8,"j":9,"x":0.4871,"y":0.566},{"i":9,"j":9,"x":0.5508,"y":0.5694},{"i":10,"j":9,"x":0.6238,"y":0.5575},{"i":11,"j":9,"x":0.6902,"y":0.5496},{"i":12,"j":9,"x":0.7629,"y":0.5694},{"i":13,"j":9,"x":0.8164,"y":0.5744},{"i":14,"j":9,"x":0.8828,"y":0.5744},{"i":15,"j":9,"x":0.9426,"y":0.5496},{"i":16,"j":9,"x":1,"y":0.5625},
{"i":0,"j":10,"x":0,"y":0.625},{"i":1,"j":10,"x":0.052,"y":0.6369},{"i":2,"j":10,"x":0.1316,"y":0.6369},{"i":3,"j":10,"x":0.1914,"y":0.62},{"i":4,"j":10,"x":0.2449,"y":0.625},{"i":5,"j":10,"x":0.3113,"y":0.63},{"i":6,"j":10,"x":0.3711,"y":0.6334},{"i":7,"j":10,"x":0.4441,"y":0.6369},{"i":8,"j":10,"x":0.5129,"y":0.62},{"i":9,"j":10,"x":0.5574,"y":0.6334},{"i":10,"j":10,"x":0.6172,"y":0.6418},{"i":11,"j":10,"x":0.7031,"y":0.6418},{"i":12,"j":10,"x":0.7566,"y":0.6334},{"i":13,"j":10,"x":0.8035,"y":0.6086},{"i":14,"j":10,"x":0.8633,"y":0.625},{"i":15,"j":10,"x":0.9426,"y":0.617},{"i":16,"j":10,"x":1,"y":0.625},
{"i":0,"j":11,"x":0,"y":0.6875},{"i":1,"j":11,"x":0.0559,"y":0.681},{"i":2,"j":11,"x":0.1184,"y":0.6925},{"i":3,"j":11,"x":0.1746,"y":0.7009},{"i":4,"j":11,"x":0.2512,"y":0.6845},{"i":5,"j":11,"x":0.3113,"y":0.6845},{"i":6,"j":11,"x":0.3711,"y":0.6925},{"i":7,"j":11,"x":0.4375,"y":0.6845},{"i":8,"j":11,"x":0.4973,"y":0.7009},{"i":9,"j":11,"x":0.5769,"y":0.6925},{"i":10,"j":11,"x":0.6172,"y":0.6761},{"i":11,"j":11,"x":0.6902,"y":0.6761},{"i":12,"j":11,"x":0.7566,"y":0.6761},{"i":13,"j":11,"x":0.8098,"y":0.6761},{"i":14,"j":11,"x":0.8894,"y":0.6761},{"i":15,"j":11,"x":0.9492,"y":0.6711},{"i":16,"j":11,"x":1,"y":0.6875},
{"i":0,"j":12,"x":0,"y":0.75},{"i":1,"j":12,"x":0.0625,"y":0.7401},{"i":2,"j":12,"x":0.1184,"y":0.747},{"i":3,"j":12,"x":0.1848,"y":0.752},{"i":4,"j":12,"x":0.2512,"y":0.7435},{"i":5,"j":12,"x":0.3308,"y":0.7599},{"i":6,"j":12,"x":0.3777,"y":0.7323},{"i":7,"j":12,"x":0.427,"y":0.7386},{"i":8,"j":12,"x":0.4973,"y":0.7435},{"i":9,"j":12,"x":0.5769,"y":0.7599},{"i":10,"j":12,"x":0.6238,"y":0.752},{"i":11,"j":12,"x":0.677,"y":0.752},{"i":12,"j":12,"x":0.7371,"y":0.7435},{"i":13,"j":12,"x":0.8035,"y":0.752},{"i":14,"j":12,"x":0.8762,"y":0.752},{"i":15,"j":12,"x":0.9426,"y":0.7435},{"i":16,"j":12,"x":1,"y":0.75},
{"i":0,"j":13,"x":0,"y":0.8125},{"i":1,"j":13,"x":0.0715,"y":0.8194},{"i":2,"j":13,"x":0.1121,"y":0.7976},{"i":3,"j":13,"x":0.1746,"y":0.8244},{"i":4,"j":13,"x":0.2449,"y":0.806},{"i":5,"j":13,"x":0.3242,"y":0.8026},{"i":6,"j":13,"x":0.3684,"y":0.8274},{"i":7,"j":13,"x":0.4309,"y":0.806},{"i":8,"j":13,"x":0.4973,"y":0.8194},{"i":9,"j":13,"x":0.5769,"y":0.811},{"i":10,"j":13,"x":0.6238,"y":0.816},{"i":11,"j":13,"x":0.6902,"y":0.8194},{"i":12,"j":13,"x":0.75,"y":0.8194},{"i":13,"j":13,"x":0.8035,"y":0.811},{"i":14,"j":13,"x":0.8828,"y":0.8194},{"i":15,"j":13,"x":0.9426,"y":0.8274},{"i":16,"j":13,"x":1,"y":0.8125},
{"i":0,"j":14,"x":0,"y":0.875},{"i":1,"j":14,"x":0.0547,"y":0.8685},{"i":2,"j":14,"x":0.134,"y":0.875},{"i":3,"j":14,"x":0.1914,"y":0.8785},{"i":4,"j":14,"x":0.2449,"y":0.867},{"i":5,"j":14,"x":0.3176,"y":0.87},{"i":6,"j":14,"x":0.3867,"y":0.8869},{"i":7,"j":14,"x":0.4375,"y":0.8899},{"i":8,"j":14,"x":0.5105,"y":0.8785},{"i":9,"j":14,"x":0.5703,"y":0.87},{"i":10,"j":14,"x":0.6301,"y":0.8573},{"i":11,"j":14,"x":0.6902,"y":0.87},{"i":12,"j":14,"x":0.7434,"y":0.8899},{"i":13,"j":14,"x":0.8098,"y":0.8785},{"i":14,"j":14,"x":0.8828,"y":0.8869},{"i":15,"j":14,"x":0.9426,"y":0.8869},{"i":16,"j":14,"x":1,"y":0.875},
{"i":0,"j":15,"x":0,"y":0.9375},{"i":1,"j":15,"x":0.0496,"y":0.9345},{"i":2,"j":15,"x":0.1379,"y":0.9444},{"i":3,"j":15,"x":0.2019,"y":0.9509},{"i":4,"j":15,"x":0.2539,"y":0.941},{"i":5,"j":15,"x":0.3242,"y":0.9211},{"i":6,"j":15,"x":0.384,"y":0.9246},{"i":7,"j":15,"x":0.427,"y":0.9295},{"i":8,"j":15,"x":0.5039,"y":0.9211},{"i":9,"j":15,"x":0.5703,"y":0.9345},{"i":10,"j":15,"x":0.6133,"y":0.941},{"i":11,"j":15,"x":0.677,"y":0.9375},{"i":12,"j":15,"x":0.7434,"y":0.941},{"i":13,"j":15,"x":0.8098,"y":0.9375},{"i":14,"j":15,"x":0.8762,"y":0.9459},{"i":15,"j":15,"x":0.9492,"y":0.9509},{"i":16,"j":15,"x":1,"y":0.9375},
{"i":0,"j":16,"x":0,"y":1},{"i":1,"j":16,"x":0.0625,"y":1},{"i":2,"j":16,"x":0.125,"y":1},{"i":3,"j":16,"x":0.1875,"y":1},{"i":4,"j":16,"x":0.25,"y":1},{"i":5,"j":16,"x":0.3125,"y":1},{"i":6,"j":16,"x":0.375,"y":1},{"i":7,"j":16,"x":0.4375,"y":1},{"i":8,"j":16,"x":0.5,"y":1},{"i":9,"j":16,"x":0.5625,"y":1},{"i":10,"j":16,"x":0.625,"y":1},{"i":11,"j":16,"x":0.6875,"y":1},{"i":12,"j":16,"x":0.75,"y":1},{"i":13,"j":16,"x":0.8125,"y":1},{"i":14,"j":16,"x":0.875,"y":1},{"i":15,"j":16,"x":0.9375,"y":1},{"i":16,"j":16,"x":1,"y":1}
]
},
"hconcat":[
{"width":384,"height":304,"data":{"name":"hex"},
"layer":[
{"mark":{"type":"line","clip":true,"color":"black","strokeWidth":1.2},
"encoding":{"x":{"field":"x","type":"quantitative","scale":{"domain":[0,1],"nice":false,"zero":false},"axis":{"orient":"bottom","values":[0,0.1,0.2,0.3,0.4,0.5,0.6,0.7,0.8,0.9,1],"format":"~g"}},
"y":{"field":"y","type":"quantitative","scale":{"domain":[0,1],"nice":false,"zero":false},"axis":{"orient":"left","values":[0,0.1,0.2,0.3,0.4,0.5,0.6,0.7,0.8,0.9,1],"format":"~g"}},
"detail":{"field":"j","type":"nominal"},"order":{"field":"x","type":"quantitative"}}},
{"mark":{"type":"line","clip":true,"color":"black","strokeWidth":1.2},
"encoding":{"x":{"field":"x","type":"quantitative","axis":{"orient":"top","labels":false,"values":[0,0.1,0.2,0.3,0.4,0.5,0.6,0.7,0.8,0.9,1]}},
"y":{"field":"y","type":"quantitative","axis":{"orient":"right","labels":false,"values":[0,0.1,0.2,0.3,0.4,0.5,0.6,0.7,0.8,0.9,1]}},
"detail":{"field":"i","type":"nominal"},"order":{"field":"y","type":"quantitative"}}}
],
"resolve":{"axis":{"x":"independent","y":"independent"}}},
{"width":381,"height":304,"data":{"name":"quad"},"view":{"stroke":null},
"layer":[
{"mark":{"type":"line","clip":true,"color":"black","strokeWidth":1.2},
"encoding":{"x":{"field":"x","type":"quantitative","scale":{"domain":[0,0.9922],"nice":false,"zero":false},"axis":{"orient":"bottom","values":[0,0.1,0.2,0.3,0.4,0.5,0.6,0.7,0.8,0.9],"format":"~g"}},
"y":{"field":"y","type":"quantitative","scale":{"domain":[0,1],"nice":false,"zero":false},"axis":{"orient":"left","values":[0,0.1,0.2,0.3,0.4,0.5,0.6,0.7,0.8,0.9,1],"format":"~g"}},
"detail":{"field":"j","type":"nominal"},"order":{"field":"x","type":"quantitative"}}},
{"mark":{"type":"line","clip":true,"color":"black","strokeWidth":1.2},
"encoding":{"x":{"field":"x","type":"quantitative","axis":{"orient":"top","labels":false,"values":[0,0.1,0.2,0.3,0.4,0.5,0.6,0.7,0.8,0.9]}},
"y":{"field":"y","type":"quantitative","axis":null},
"detail":{"field":"i","type":"nominal"},"order":{"field":"y","type":"quantitative"}}}
],
"resolve":{"axis":{"x":"independent","y":"independent"}}}
]
}
